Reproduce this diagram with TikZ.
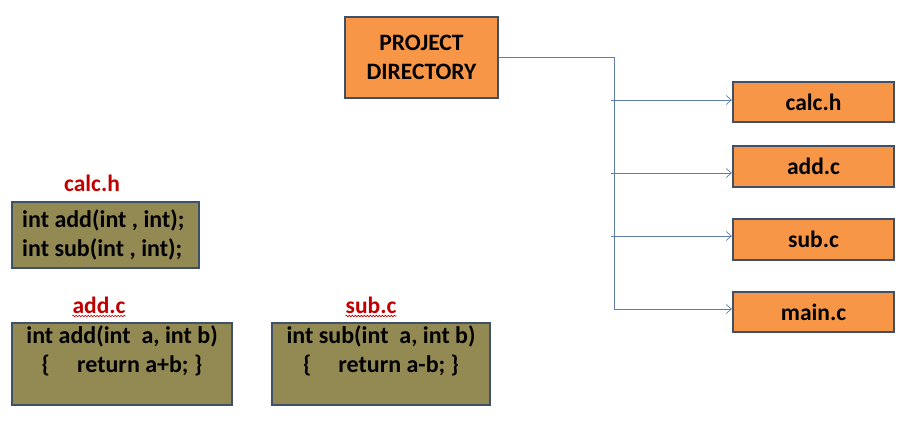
\documentclass[tikz,border=0pt]{standalone}
\usepackage{fontspec}
\setmainfont{Carlito}
\usetikzlibrary{arrows.meta,decorations.pathmorphing}
\definecolor{orangefill}{HTML}{F79646}
\definecolor{olivefill}{HTML}{938953}
\definecolor{boxedge}{HTML}{3F5168}
\definecolor{linkcol}{HTML}{5B7DB0}
\definecolor{labred}{HTML}{C00000}
\tikzset{
  orangebox/.style={draw=boxedge, line width=2.4pt, fill=orangefill, font=\bfseries\fontsize{23.5}{29}\selectfont, align=center, inner sep=0pt},
  codebox/.style={draw=boxedge, line width=2.4pt, fill=olivefill, inner sep=0pt},
  codefont/.style={font=\bfseries\fontsize{24}{29}\selectfont},
  redlabel/.style={text=labred, font=\bfseries\fontsize{23.5}{28}\selectfont, inner sep=0pt},
  link/.style={draw=linkcol, line width=0.7pt},
  linkarrow/.style={link, -{Straight Barb[length=5pt,width=9pt,line width=0.7pt]}},
  squiggle/.style={draw=labred, line width=0.6pt, decorate, decoration={snake, amplitude=0.8pt, segment length=3pt}}
}
\begin{document}
\begin{tikzpicture}[x=1pt,y=-1pt]
\useasboundingbox (0,0) rectangle (917,439);
% project directory
\node[orangebox, minimum width=153pt, minimum height=81pt] (proj) at (421.5,57.5) {PROJECT\\DIRECTORY};
% right file boxes
\node[orangebox, minimum width=161pt, minimum height=40pt] (fcalc) at (813.5,102) {calc.h};
\node[orangebox, minimum width=161pt, minimum height=41pt] (fadd) at (813.5,166.5) {add.c};
\node[orangebox, minimum width=161pt, minimum height=41pt] (fsub) at (813.5,239.5) {sub.c};
\node[orangebox, minimum width=161pt, minimum height=40pt] (fmain) at (813.5,312) {main.c};
% connectors
\coordinate (top) at (614,57);
\coordinate (bot) at (614,309);
\coordinate (b1) at (611,100);
\coordinate (b2) at (611,173);
\coordinate (b3) at (611,236);
\draw[link] (proj.east |- top) -- (top) -- (bot);
\draw[linkarrow] (bot) -- (fmain.west |- bot);
\draw[linkarrow] (b1) -- (fcalc.west |- b1);
\draw[linkarrow] (b2) -- (fadd.west |- b2);
\draw[linkarrow] (b3) -- (fsub.west |- b3);
% calc.h code
\node[redlabel] (lcalc) at (92,183) {calc.h};
\node[codebox, minimum width=187pt, minimum height=66pt] (ccalc) at (105.5,235) {};
\node[codefont, align=left, anchor=west, inner sep=0pt] (tcalc) at (22,235) {int add(int , int);\\int sub(int , int);};
% add.c code
\node[redlabel] (ladd) at (99,305) {add.c};
\draw[squiggle] ([yshift=-2.5pt]ladd.south west) -- ([yshift=-2.5pt]ladd.south east);
\node[codebox, minimum width=220pt, minimum height=82pt] (cadd) at (122,364) {};
\node[codefont, align=center, anchor=north, inner sep=0pt] (tadd) at ([yshift=-4pt]cadd.north) {int add(int\ \ a, int b)\\\{\ \ \ \ \ return a+b; \}};
% sub.c code
\node[redlabel] (lsub) at (371,305) {sub.c};
\draw[squiggle] ([yshift=-2.5pt]lsub.south west) -- ([yshift=-2.5pt]lsub.south east);
\node[codebox, minimum width=218pt, minimum height=82pt] (csub) at (381,364) {};
\node[codefont, align=center, anchor=north, inner sep=0pt] (tsub) at ([yshift=-4pt]csub.north) {int sub(int\ \ a, int b)\\\{\ \ \ \ \ return a-b; \}};
\end{tikzpicture}
\end{document}
